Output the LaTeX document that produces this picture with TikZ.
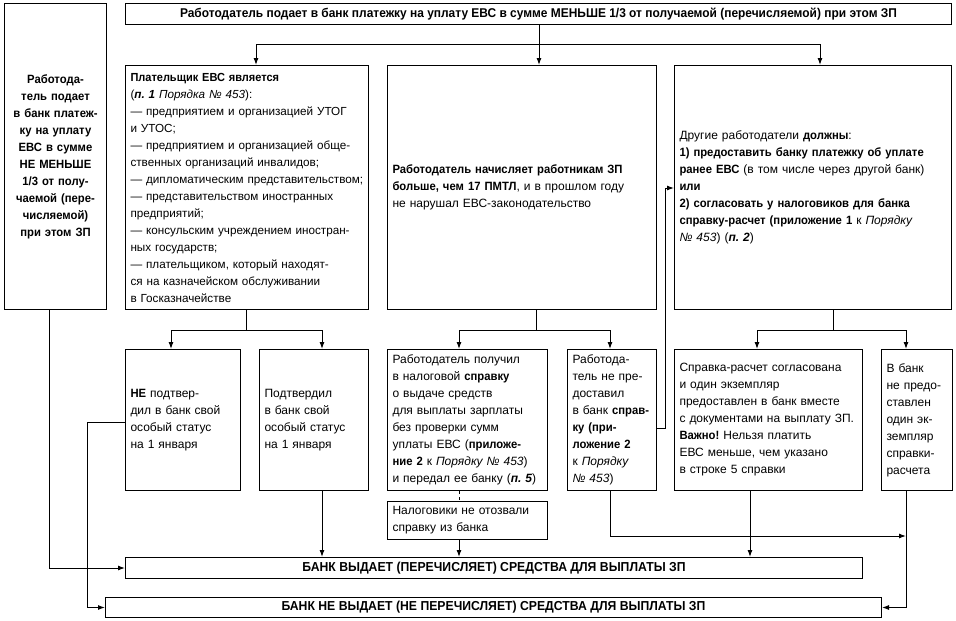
\documentclass[tikz,border=0pt]{standalone}
\usepackage{fontspec}
\setmainfont{Liberation Sans}[BoldFeatures={FakeStretch=0.94}]
\usetikzlibrary{arrows.meta}
\frenchspacing

\begin{document}
\begin{tikzpicture}[
    x=1pt, y=-1pt,
    font=\fontsize{12}{17}\selectfont,
    box/.style={draw, line width=1pt, anchor=north west, align=left, inner xsep=5pt, inner ysep=0pt},
    bar/.style={draw, line width=1pt, anchor=north west, inner sep=0pt, font=\fontsize{13}{17}\selectfont\bfseries},
    link/.style={line width=1pt},
    arr/.style={link, -{Latex[length=7pt,width=5pt]}}
  ]
    \useasboundingbox (0,0) rectangle (956,621);

    % top row
    \node[bar, font=\fontsize{12.7}{17}\selectfont\bfseries, minimum width=826pt, minimum height=21pt] (top) at (125,3)
      {Работодатель подает в банк платежку на уплату ЕВС в сумме МЕНЬШЕ 1/3 от получаемой (перечисляемой) при этом ЗП};
    \node[box, align=center, font=\fontsize{12}{17}\selectfont\bfseries, text width=92pt, minimum height=306pt] (left) at (4,3)
      {Работода-\\тель подает\\в банк платеж-\\ку на уплату\\ЕВС в сумме\\НЕ МЕНЬШЕ\\1/3 от полу-\\чаемой (пере-\\числяемой)\\при этом ЗП};

    % middle row
    \node[box, font=\fontsize{11.7}{17}\selectfont, text width=233pt, minimum height=244pt] (payer) at (125,65)
      {\textbf{Плательщик ЕВС является}\\
       (\textbf{\textit{п.~1}} \textit{Порядка №~453}):\\
       — предприятием и организацией УТОГ\\
       и УТОС;\\
       — предприятием и организацией обще-\\
       ственных организаций инвалидов;\\
       \mbox{— дипломатическим представительством;}\\
       — представительством иностранных\\
       предприятий;\\
       — консульским учреждением иностран-\\
       ных государств;\\
       — плательщиком, который находят-\\
       ся на казначейском обслуживании\\
       в Госказначействе};
    \node[box, text width=259pt, minimum height=244pt] (accr) at (387,65)
      {\textbf{Работодатель начисляет работникам ЗП}\\
       \textbf{больше, чем 17 ПМТЛ}, и в прошлом году\\
       не нарушал ЕВС-законодательство};
    \node[box, text width=267pt, minimum height=244pt] (other) at (674,65)
      {Другие работодатели \textbf{должны}:\\
       \textbf{1) предоставить банку платежку об уплате}\\
       \textbf{ранее ЕВС} (в том числе через другой банк)\\
       \textbf{или}\\
       \textbf{2) согласовать у налоговиков для банка}\\
       \textbf{справку-расчет (приложение 1} к \textit{Порядку}\\
       \textit{№~453}) (\textbf{\textit{п.~2}})};

    % lower row
    \node[box, text width=105pt, minimum height=141pt] (notconf) at (125,349)
      {\textbf{НЕ} подтвер-\\дил в банк свой\\особый статус\\на 1 января};
    \node[box, text width=99pt, minimum height=141pt] (conf) at (259,349)
      {Подтвердил\\в банк свой\\особый статус\\на 1 января};
    \node[box, text width=150pt, minimum height=141pt] (cert) at (387,349)
      {Работодатель получил\\
       в налоговой \textbf{справку}\\
       о выдаче средств\\
       для выплаты зарплаты\\
       без проверки сумм\\
       уплаты ЕВС (\textbf{приложе-}\\
       \textbf{ние 2} к \textit{Порядку №~453})\\
       и передал ее банку (\textbf{\textit{п.~5}})};
    \node[box, text width=79pt, minimum height=141pt] (nocert) at (567,349)
      {Работода-\\тель не пре-\\доставил\\в банк \textbf{справ-}\\\textbf{ку (при-}\\\textbf{ложение 2}\\к \textit{Порядку}\\\textit{№~453})};
    \node[box, text width=178pt, minimum height=141pt] (agreed) at (674,349)
      {Справка-расчет согласована\\
       и один экземпляр\\
       предоставлен в банк вместе\\
       с документами на выплату ЗП.\\
       \textbf{Важно!} Нельзя платить\\
       ЕВС меньше, чем указано\\
       в строке 5 справки};
    \node[box, text width=61pt, minimum height=141pt] (nocopy) at (881,349)
      {В банк\\не предо-\\ставлен\\один эк-\\земпляр\\справки-\\расчета};
    \node[box, text width=150pt, minimum height=38pt] (tax) at (387,501)
      {Налоговики не отозвали\\справку из банка};

    % bank bars
    \node[bar, minimum width=737pt, minimum height=21pt] (give) at (125,557)
      {БАНК ВЫДАЕТ (ПЕРЕЧИСЛЯЕТ) СРЕДСТВА ДЛЯ ВЫПЛАТЫ ЗП};
    \node[bar, minimum width=776pt, minimum height=20pt] (nogive) at (105,597)
      {БАНК НЕ ВЫДАЕТ (НЕ ПЕРЕЧИСЛЯЕТ) СРЕДСТВА ДЛЯ ВЫПЛАТЫ ЗП};

    % branch points
    \coordinate (t0) at (539,44);
    \coordinate (t1) at (256,44);
    \coordinate (t2) at (820,44);
    \coordinate (p0) at (246,330);
    \coordinate (p1) at (171,330);
    \coordinate (p2) at (322,330);
    \coordinate (a0) at (536,330);
    \coordinate (a1) at (459,330);
    \coordinate (a2) at (610,330);
    \coordinate (o0) at (833,330);
    \coordinate (o1) at (757,330);
    \coordinate (o2) at (906,330);
    \coordinate (e0) at (750,330);
    \coordinate (d1) at (665,428);
    \coordinate (d2) at (665,188);
    \coordinate (f1) at (906,536);
    \coordinate (l0) at (49,330);
    \coordinate (n0) at (87,422);

    % connectors
    \draw[arr] (top.south -| t0) -- (accr.north -| t0);
    \draw[link] (t1) -- (t2);
    \draw[arr] (t1) -- (payer.north -| t1);
    \draw[arr] (t2) -- (other.north -| t2);

    \draw[link] (payer.south -| p0) -- (p0);
    \draw[link] (p1) -- (p2);
    \draw[arr] (p1) -- (notconf.north -| p1);
    \draw[arr] (p2) -- (conf.north -| p2);

    \draw[link] (accr.south -| a0) -- (a0);
    \draw[link] (a1) -- (a2);
    \draw[arr] (a1) -- (cert.north -| a1);
    \draw[arr] (a2) -- (nocert.north -| a2);

    \draw[link] (other.south -| o0) -- (o0);
    \draw[link] (o1) -- (o2);
    \draw[arr] (o1) -- (agreed.north -| o1);
    \draw[arr] (o2) -- (nocopy.north -| o2);

    \draw[link, dashed] (cert.south -| a1) -- (tax.north -| a1);
    \draw[arr] (tax.south -| a1) -- (give.north -| a1);
    \draw[arr] (conf.south -| p2) -- (give.north -| p2);
    \draw[arr] (agreed.south -| e0) -- (give.north -| e0);
    \draw[arr] (left.south -| l0) |- (give.west);

    \draw[arr] (nocert.east |- d1) -- (d1) -- (d2) -- (other.west |- d2);
    \draw[arr] (nocert.south -| a2) |- (f1);
    \draw[arr] (nocopy.south -| o2) |- (nogive.east);
    \draw[arr] (notconf.west |- n0) -- (n0) |- (nogive.west);
  \end{tikzpicture}
\end{document}
